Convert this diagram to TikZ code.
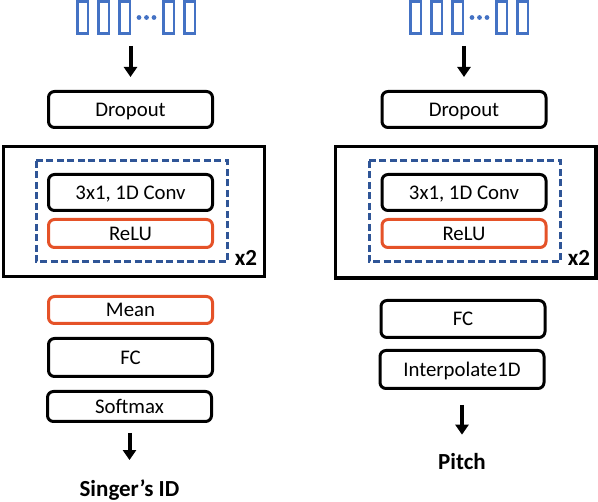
\documentclass[tikz,border=0pt]{standalone}
\usepackage{fontspec}
\setmainfont{Carlito}
\usetikzlibrary{arrows.meta}

\definecolor{eingabe}{RGB}{68,114,196}
\definecolor{rahmen}{RGB}{47,85,151}
\definecolor{relu}{RGB}{229,82,40}

\tikzset{
  block/.style={draw, line width=3pt, rounded corners=6pt, minimum width=164pt,
    inner sep=0pt, text height=13.5pt, text depth=0pt, font=\fontsize{20.8}{24}\selectfont},
  aktiv/.style={block, draw=relu},
  huelle/.style={draw, line width=3.2pt},
  schleife/.style={draw=rahmen, line width=3pt, dash pattern=on 7pt off 3.5pt},
  wdh/.style={inner sep=0pt, font=\fontsize{23}{26}\selectfont\bfseries},
  ausgabe/.style={inner sep=0pt, font=\fontsize{23}{26}\selectfont\bfseries},
  pfeil/.style={line width=4pt, -{Triangle[width=13pt,length=10pt]}},
}

\begin{document}
\begin{tikzpicture}[x=1pt,y=-1pt]
		\useasboundingbox (0,0) rectangle (598,502);

		% Eingabe
		\foreach \s in {0,333}{
			\foreach \x in {77.3,98.3,119.3,163.3,184.3}
				\draw[eingabe, line width=2.6pt] (\s+\x,1.3) rectangle ++(10.5,32.5);
			\foreach \x in {139,146.5,154}
				\fill[eingabe] (\s+\x,17.5) circle (2.4pt);
		}
		\coordinate (inL) at (130.5,35);
		\coordinate (inR) at (464,35);

		% Linke Seite
		\node[block, minimum height=36pt] (dropL) at (130.5,109.5) {Dropout};
		\draw[huelle] (3.5,146.5) rectangle (264.5,276.5);
		\draw[schleife] (36,161) rectangle (227,262);
		\node[block, minimum height=36pt] (convL) at (130.5,192.5) {3x1, 1D Conv};
		\node[aktiv, minimum height=28pt] (reluL) at (130.5,233.5) {ReLU};
		\node[wdh] (wdhL) at (246,258) {x2};
		\node[aktiv, minimum height=27pt] (meanL) at (130.5,310) {Mean};
		\node[block, minimum height=38pt] (fcL) at (130.5,357.5) {FC};
		\node[block, minimum height=30pt] (softL) at (129.5,406.5) {Softmax};
		\node[ausgabe, anchor=base] (idL) at (129.5,497) {Singer’s ID};

		% Rechte Seite
		\node[block, minimum height=36pt] (dropR) at (464,109.5) {Dropout};
		\draw[huelle] (335.5,146.5) rectangle (596,278);
		\draw[schleife] (369,161) rectangle (560,262);
		\node[block, minimum height=36pt] (convR) at (464,192.5) {3x1, 1D Conv};
		\node[aktiv, minimum height=28pt] (reluR) at (464,233.5) {ReLU};
		\node[wdh] (wdhR) at (579,258) {x2};
		\node[block, minimum height=37pt] (fcR) at (463,319) {FC};
		\node[block, minimum height=38pt] (interpR) at (462,369.5) {Interpolate1D};
		\node[ausgabe, anchor=base] (pitchR) at (462,470) {Pitch};

		% Pfeile
		\draw[pfeil, shorten <=11pt, shorten >=13pt] (inL) -- (dropL);
		\draw[pfeil, shorten <=11pt, shorten >=13pt] (inR) -- (dropR);
		\draw[pfeil, shorten <=10pt, shorten >=20pt] (softL) -- (idL);
		\draw[pfeil, shorten <=15pt, shorten >=19pt] (interpR) -- (pitchR);
	\end{tikzpicture}
\end{document}
